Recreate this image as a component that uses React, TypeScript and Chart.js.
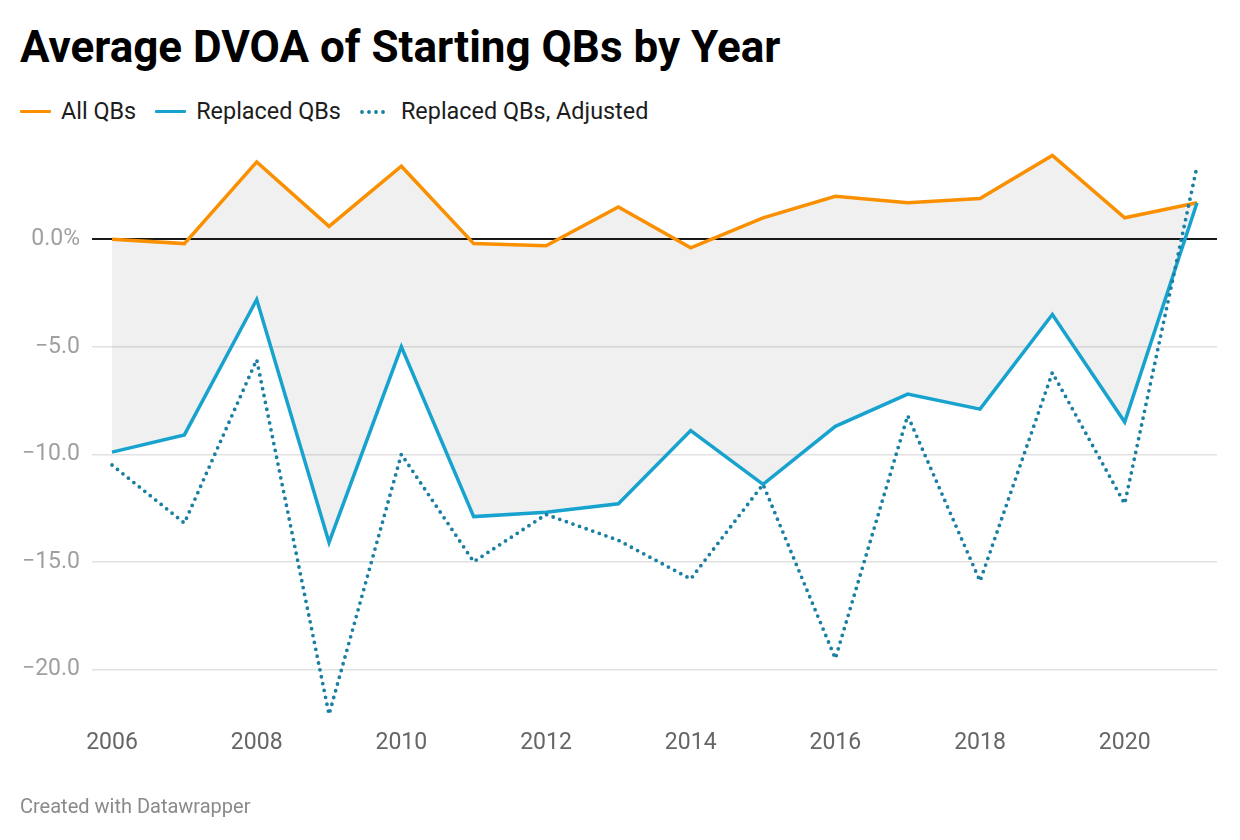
import React, { useEffect, useRef } from "react";
import { Chart, registerables } from "chart.js";

Chart.register(...registerables);

const years = [2006, 2007, 2008, 2009, 2010, 2011, 2012, 2013, 2014, 2015, 2016, 2017, 2018, 2019, 2020, 2021];
const allQBs = [0.0, -0.2, 3.6, 0.6, 3.4, -0.2, -0.3, 1.5, -0.4, 1.0, 2.0, 1.7, 1.9, 3.9, 1.0, 1.7];
const replacedQBs = [-9.9, -9.1, -2.8, -14.1, -5.0, -12.9, -12.7, -12.3, -8.9, -11.4, -8.7, -7.2, -7.9, -3.5, -8.5, 1.7];
const replacedAdjusted = [-10.5, -13.2, -5.6, -22.1, -10.0, -15.0, -12.8, -14.0, -15.8, -11.4, -19.5, -8.2, -15.9, -6.2, -12.3, 3.4];
const xTicks = [2006, 2008, 2010, 2012, 2014, 2016, 2018, 2020];
const yTicks = [-20, -15, -10, -5, 0];

const ORANGE = "#fa9000";
const BLUE = "#18a3cf";
const DARKBLUE = "#1a7fa2";
const FONT = "Roboto, 'Noto Sans', sans-serif";

function toPoints(vals: number[]) {
  return years.map((x, i) => ({ x, y: vals[i] }));
}

export default function App() {
  const canvasRef = useRef<HTMLCanvasElement | null>(null);

  useEffect(() => {
    if (!canvasRef.current) return;
    const chart = new Chart(canvasRef.current, {
      type: "line",
      data: {
        datasets: [
          {
            label: "All QBs",
            data: toPoints(allQBs),
            borderColor: ORANGE,
            borderWidth: 3.5,
            pointRadius: 0,
            fill: "+1",
            backgroundColor: "rgba(0,0,0,0.06)",
            order: 2,
          },
          {
            label: "Replaced QBs",
            data: toPoints(replacedQBs),
            borderColor: BLUE,
            borderWidth: 3.5,
            pointRadius: 0,
            fill: false,
            order: 1,
          },
          {
            label: "Replaced QBs, Adjusted",
            data: toPoints(replacedAdjusted),
            borderColor: DARKBLUE,
            borderWidth: 3.8,
            borderDash: [0, 7],
            borderCapStyle: "round",
            pointRadius: 0,
            fill: false,
            order: 0,
          },
        ],
      },
      options: {
        animation: false,
        responsive: false,
        events: [],
        layout: { padding: { top: 149, bottom: 77, left: 0, right: 23 } },
        plugins: {
          legend: { display: false },
          title: { display: false },
          tooltip: { enabled: false },
        },
        scales: {
          x: {
            type: "linear",
            min: 2005.723,
            max: 2021.276,
            afterBuildTicks: (scale: any) => {
              scale.ticks = xTicks.map((v) => ({ value: v }));
            },
            afterFit: (scale: any) => {
              scale.height = 40;
            },
            grid: { display: false },
            border: { display: false },
            ticks: {
              color: "#666666",
              font: { family: FONT, size: 23 },
              padding: -2,
              maxRotation: 0,
              autoSkip: false,
              callback: (v: any) => String(v),
            },
          },
          y: {
            type: "linear",
            min: -22.5,
            max: 4.2,
            afterBuildTicks: (scale: any) => {
              scale.ticks = yTicks.map((v) => ({ value: v }));
            },
            afterFit: (scale: any) => {
              scale.width = 92;
            },
            border: { display: false },
            grid: {
              drawTicks: false,
              color: (ctx: any) => (ctx.tick && ctx.tick.value === 0 ? "#1a1a1a" : "#e2e2e2"),
              lineWidth: (ctx: any) => (ctx.tick && ctx.tick.value === 0 ? 2 : 1.5),
            },
            ticks: {
              color: "#a0a0a0",
              font: { family: FONT, size: 23 },
              padding: 12,
              autoSkip: false,
              callback: (v: any) => (v === 0 ? "0.0%" : "\u2212" + Math.abs(v).toFixed(1)),
            },
          },
        },
      },
    });
    return () => chart.destroy();
  }, []);

  const legendItem = (label: string, sample: React.ReactNode, gap: number) => (
    <div style={{ display: "flex", alignItems: "center", marginRight: gap }}>
      {sample}
      <span style={{ marginLeft: 10 }}>{label}</span>
    </div>
  );

  const solid = (color: string) => (
    <div style={{ width: 31, height: 3.5, background: color, borderRadius: 1 }} />
  );

  const dotted = (
    <svg width={31} height={6} style={{ display: "block" }}>
      <line x1={2} y1={3} x2={30} y2={3} stroke={DARKBLUE} strokeWidth={3.8} strokeLinecap="round" strokeDasharray="0 7" />
    </svg>
  );

  return (
    <div
      style={{
        position: "fixed",
        left: 0,
        top: 0,
        width: 1240,
        height: 840,
        background: "#ffffff",
        fontFamily: FONT,
        overflow: "hidden",
      }}
    >
      <div
        style={{
          position: "absolute",
          left: 20,
          top: 25,
          fontSize: 44,
          lineHeight: 1,
          fontWeight: 700,
          color: "#000000",
          whiteSpace: "nowrap",
        }}
      >
        Average DVOA of Starting QBs by Year
      </div>
      <div
        style={{
          position: "absolute",
          left: 20,
          top: 99,
          height: 25,
          display: "flex",
          alignItems: "center",
          fontSize: 23.4,
          lineHeight: 1,
          color: "#1d1d1d",
          whiteSpace: "nowrap",
        }}
      >
        {legendItem("All QBs", solid(ORANGE), 19)}
        {legendItem("Replaced QBs", solid(BLUE), 19)}
        {legendItem("Replaced QBs, Adjusted", dotted, 0)}
      </div>
      <canvas
        ref={canvasRef}
        width={1240}
        height={840}
        style={{ position: "absolute", left: 0, top: 0, width: 1240, height: 840 }}
      />
      <div
        style={{
          position: "absolute",
          left: 20,
          top: 796,
          fontSize: 20,
          lineHeight: 1,
          color: "#8a8a8a",
          whiteSpace: "nowrap",
        }}
      >
        Created with Datawrapper
      </div>
    </div>
  );
}
